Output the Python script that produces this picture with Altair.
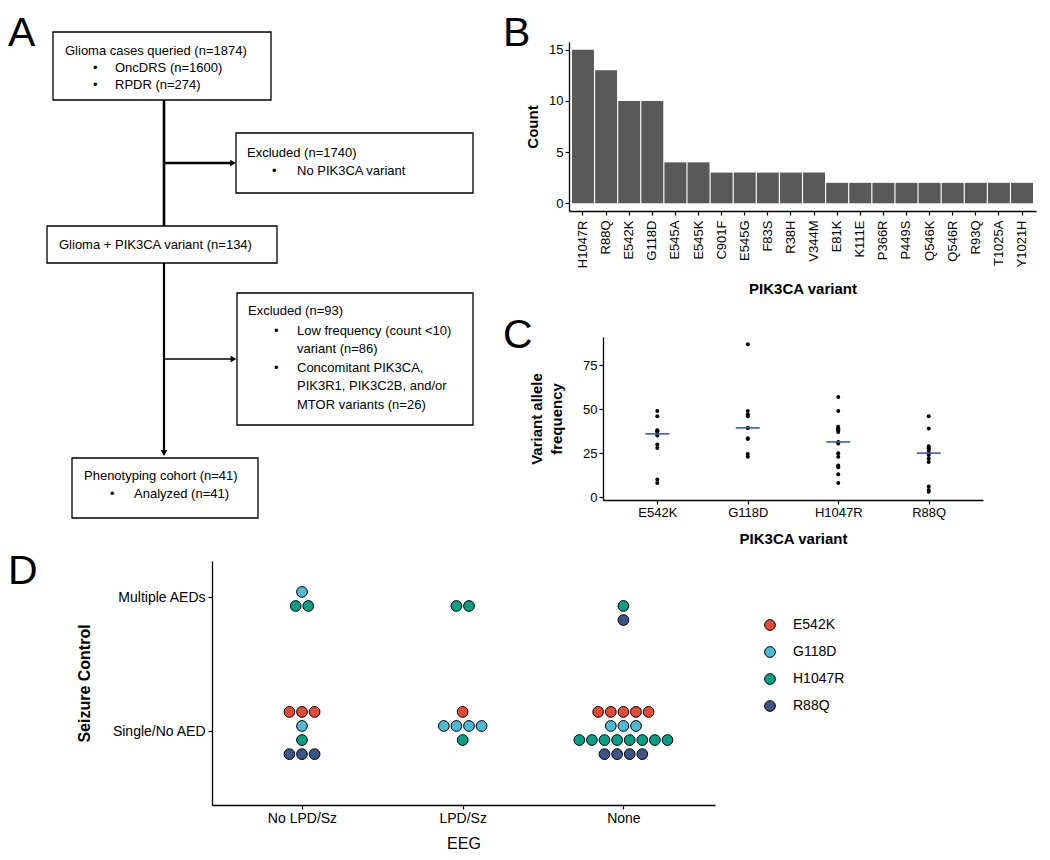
import altair as alt
import pandas as pd

FONT = "Liberation Sans"
LETTER_FONT = "Liberation Sans"

# ---------------- Panel A: flowchart (page-pixel layout space) ----------------
box_x1 = [53, 236, 47, 237, 72]
box_x2 = [271, 473, 277, 473, 258]
box_y1 = [32, 133, 226, 293, 458]
box_y2 = [100, 193, 263, 425, 518]

seg_x1 = [164, 164, 164, 164]
seg_x2 = [164, 231, 164, 232]
seg_y1 = [100, 163, 263, 359]
seg_y2 = [226, 163, 451, 359]
seg_w = [2.6, 2.6, 2.2, 1.4]

head_x = [233, 164, 233.5]
head_y = [163, 453, 359]
head_shape = ["triangle-right", "triangle-down", "triangle-right"]

txt_x = [65, 93, 115, 93, 115, 247, 272, 297, 59, 248, 274, 297, 297, 274, 297, 297, 297, 84, 110, 134]
txt_y = [51, 68, 68, 85, 85, 153, 171, 171, 245, 311, 331, 331, 349, 368, 368, 386, 405, 476, 494, 494]
txt_label = ["Glioma cases queried (n=1874)", "•", "OncDRS (n=1600)", "•", "RPDR (n=274)",
             "Excluded (n=1740)", "•", "No PIK3CA variant",
             "Glioma + PIK3CA variant (n=134)",
             "Excluded (n=93)", "•", "Low frequency (count <10)", "variant (n=86)",
             "•", "Concomitant PIK3CA,", "PIK3R1, PIK3C2B, and/or", "MTOR variants (n=26)",
             "Phenotyping cohort (n=41)", "•", "Analyzed (n=41)"]

# ---------------- Panel B: counts per variant ----------------
b_variants = ["H1047R", "R88Q", "E542K", "G118D", "E545A", "E545K", "C901F", "E545G", "F83S", "R38H",
              "V344M", "E81K", "K111E", "P366R", "P449S", "Q546K", "Q546R", "R93Q", "T1025A", "Y1021H"]
b_counts = [15, 13, 10, 10, 4, 4, 3, 3, 3, 3, 3, 2, 2, 2, 2, 2, 2, 2, 2, 2]

# ---------------- Panel C: variant allele frequency ----------------
c_variants = ["E542K", "G118D", "H1047R", "R88Q"]
c_e542k = [49, 46, 38, 37.5, 37, 35, 30, 28, 10, 8]
c_g118d = [87, 49, 47, 46, 39.5, 39.3, 33.5, 33, 24.5, 23]
c_h1047r = [57, 49, 40, 39, 38.5, 38, 37, 31.4, 30.5, 25, 23, 18, 17, 13, 8]
c_r88q = [46, 39, 29, 28, 27.5, 26.5, 25, 24, 22, 20, 6, 4, 3]

# ---------------- Panel D: seizure control by EEG ----------------
d_eeg_levels = ["No LPD/Sz", "LPD/Sz", "None"]
d_seizure_levels = ["Single/No AED", "Multiple AEDs"]
d_variants = ["E542K", "G118D", "H1047R", "R88Q"]
d_colors = ["#E64B35", "#4DBBD5", "#00A087", "#3C5488"]
d_eeg = ["No LPD/Sz", "No LPD/Sz", "No LPD/Sz", "No LPD/Sz", "No LPD/Sz", "No LPD/Sz",
         "LPD/Sz", "LPD/Sz", "LPD/Sz", "LPD/Sz",
         "None", "None", "None", "None", "None", "None"]
d_seizure = ["Multiple AEDs", "Multiple AEDs", "Single/No AED", "Single/No AED", "Single/No AED", "Single/No AED",
             "Multiple AEDs", "Single/No AED", "Single/No AED", "Single/No AED",
             "Multiple AEDs", "Multiple AEDs", "Single/No AED", "Single/No AED", "Single/No AED", "Single/No AED"]
d_variant = ["G118D", "H1047R", "E542K", "G118D", "H1047R", "R88Q",
             "H1047R", "E542K", "G118D", "H1047R",
             "H1047R", "R88Q", "E542K", "G118D", "H1047R", "R88Q"]
d_n = [1, 2, 3, 1, 1, 3,
       2, 1, 4, 1,
       1, 1, 5, 3, 8, 4]


def frame(x1, x2, y1, y2):
    return alt.Chart(pd.DataFrame({"f": [0]})).mark_rect(opacity=0).encode(
        x=alt.value(x1), x2=alt.value(x2), y=alt.value(y1), y2=alt.value(y2))


def letter(ch, x, y):
    return alt.Chart(pd.DataFrame({"f": [0]})).mark_text(
        text=ch, align="left", baseline="alphabetic", font=LETTER_FONT, fontSize=41, color="black"
    ).encode(x=alt.value(x), y=alt.value(y))


# ---------- Panel A (origin aligned with panel D's plot origin) ----------
A_X0, A_Y0, WA, HA = 212, 42, 291, 506
sxA = alt.Scale(domain=[A_X0, A_X0 + WA], nice=False, zero=False)
syA = alt.Scale(domain=[A_Y0, A_Y0 + HA], nice=False, zero=False, reverse=True)

boxes = pd.DataFrame({"x1": box_x1, "x2": box_x2, "y1": box_y1, "y2": box_y2})
segs = pd.DataFrame({"x1": seg_x1, "x2": seg_x2, "y1": seg_y1, "y2": seg_y2, "w": seg_w})
heads = pd.DataFrame({"x": head_x, "y": head_y, "shape": head_shape})
texts = pd.DataFrame({"x": txt_x, "y": txt_y, "label": txt_label})

A_boxes = alt.Chart(boxes).mark_rect(fill="white", stroke="black", strokeWidth=1.3).encode(
    x=alt.X("x1:Q", scale=sxA, axis=None), x2="x2:Q",
    y=alt.Y("y1:Q", scale=syA, axis=None), y2="y2:Q")
A_segs = alt.Chart(segs).mark_rule(color="black").encode(
    x=alt.X("x1:Q", scale=sxA, axis=None), x2="x2:Q",
    y=alt.Y("y1:Q", scale=syA, axis=None), y2="y2:Q",
    strokeWidth=alt.StrokeWidth("w:Q", scale=None, legend=None))
A_heads = alt.Chart(heads).mark_point(filled=True, color="black", opacity=1, size=45).encode(
    x=alt.X("x:Q", scale=sxA, axis=None),
    y=alt.Y("y:Q", scale=syA, axis=None),
    shape=alt.Shape("shape:N", scale=None, legend=None))
A_text = alt.Chart(texts).mark_text(align="left", baseline="middle", font=FONT, fontSize=13,
                                    color="black").encode(
    x=alt.X("x:Q", scale=sxA, axis=None),
    y=alt.Y("y:Q", scale=syA, axis=None),
    text="label:N")
panelA = alt.layer(frame(-204, WA, -34, HA), A_boxes, A_segs, A_heads, A_text,
                   letter("A", -204, 4)).properties(width=WA, height=HA)

# ---------- Panel B ----------
dfB = pd.DataFrame({"variant": b_variants, "count": b_counts})
B_bars = alt.Chart(dfB).mark_bar(color="#595959").encode(
    x=alt.X("variant:N", sort=b_variants,
            scale=alt.Scale(paddingInner=0.05, paddingOuter=0.13),
            axis=alt.Axis(title="PIK3CA variant", labelAngle=270, labelFontSize=13, labelPadding=5,
                          titlePadding=14, tickSize=4)),
    y=alt.Y("count:Q", scale=alt.Scale(domain=[-0.75, 15.75], nice=False, zero=False),
            axis=alt.Axis(title="Count", values=[0, 5, 10, 15], tickSize=4, labelPadding=2,
                          titlePadding=8, labelFontSize=13)))
panelB = alt.layer(frame(-66, 473, -34, 262), B_bars, letter("B", -66, 4)).properties(width=467, height=169)

# ---------- Panel C (group origin shared with B; axes shifted inward) ----------
c_all = [c_e542k, c_g118d, c_h1047r, c_r88q]
dfC = pd.DataFrame({
    "variant": [v for v, vals in zip(c_variants, c_all) for _ in vals],
    "vaf": [x for vals in c_all for x in vals],
})
C_SHIFT, WC, HC = 34, 414, 163
xC = alt.X("variant:N", sort=c_variants,
           scale=alt.Scale(type="point", padding=0.6, range=[C_SHIFT, WC]),
           axis=alt.Axis(title="PIK3CA variant", labelAngle=0, labelFontSize=13, labelPadding=2,
                         titlePadding=12, tickSize=4))
yC_scale = alt.Scale(domain=[-1.7, 91.2], nice=False, zero=False)
C_pts = alt.Chart(dfC).mark_circle(size=16, color="black", opacity=1).encode(
    x=xC,
    y=alt.Y("vaf:Q", scale=yC_scale,
            axis=alt.Axis(title=["Variant allele", "frequency"], values=[0, 25, 50, 75], tickSize=4,
                          labelPadding=2, titlePadding=18, labelFontSize=13, titleLineHeight=20,
                          offset=-C_SHIFT)))
C_med = alt.Chart(dfC).mark_tick(color="#3F5AA8", thickness=1.6, size=24).encode(
    x=xC, y=alt.Y("median(vaf):Q", scale=yC_scale))
panelC = alt.layer(frame(-66, 473, -33, 211), C_pts, C_med, letter("C", -66, 11)).properties(
    width=WC, height=HC)

# ---------- Panel D ----------
rows = []
for e, s, v, n in zip(d_eeg, d_seizure, d_variant, d_n):
    for _ in range(n):
        rows.append({"eeg": e, "seizure": s, "variant": v,
                     "eeg_i": d_eeg_levels.index(e) + 1,
                     "sz_i": d_seizure_levels.index(s) + 1,
                     "var_i": d_variants.index(v)})
dfD = pd.DataFrame(rows)

x_label_expr = " : ".join(
    [f"datum.value == {i + 1} ? '{lab}'" for i, lab in enumerate(d_eeg_levels[:-1])]) + f" : '{d_eeg_levels[-1]}'"
y_label_expr = f"datum.value == 1 ? '{d_seizure_levels[0]}' : '{d_seizure_levels[1]}'"
color_scale = alt.Scale(domain=d_variants, range=d_colors)

D_pts = alt.Chart(dfD).transform_window(
    k="row_number()", groupby=["eeg", "seizure", "variant"]
).transform_joinaggregate(
    cnt="count()", groupby=["eeg", "seizure", "variant"]
).transform_calculate(
    xpos="datum.eeg_i + (datum.k - (datum.cnt + 1) / 2) * 0.0784",
    ypos="datum.sz_i + (1.5 - datum.var_i) * 0.105 - 0.013"
).mark_circle(size=115, stroke="black", strokeWidth=1, opacity=1).encode(
    x=alt.X("xpos:Q", scale=alt.Scale(domain=[0.44, 3.57], nice=False, zero=False),
            axis=alt.Axis(title="EEG", values=[1, 2, 3], labelExpr=x_label_expr, labelFontSize=14,
                          labelPadding=2, titlePadding=10, titleFontSize=16, titleFontWeight="normal",
                          tickSize=4)),
    y=alt.Y("ypos:Q", scale=alt.Scale(domain=[0.45, 2.27], nice=False, zero=False),
            axis=alt.Axis(title="Seizure Control", values=[1, 2], labelExpr=y_label_expr, labelFontSize=14,
                          labelPadding=3, titlePadding=19, titleFontSize=16, tickSize=4)),
    color=alt.Color("variant:N", scale=color_scale, legend=None),
    order=alt.Order("var_i:Q"))

dfLeg = pd.DataFrame({"variant": d_variants})
leg_y = alt.Y("variant:N", scale=alt.Scale(domain=d_variants, range=[64, 145], padding=0), axis=None)
D_leg_pts = alt.Chart(dfLeg).mark_circle(size=115, stroke="black", strokeWidth=1, opacity=1).encode(
    x=alt.value(558), y=leg_y, color=alt.Color("variant:N", scale=color_scale, legend=None))
D_leg_txt = alt.Chart(dfLeg).mark_text(align="left", baseline="middle", font=FONT, fontSize=14,
                                       color="black").encode(
    x=alt.value(581), y=leg_y, text="variant:N")

panelD = alt.layer(frame(-204, 830, -13, 289), D_pts, D_leg_pts, D_leg_txt, letter("D", -204, 23)).resolve_scale(
    y="independent").properties(width=503, height=244)

right_col = alt.vconcat(panelB, panelC, spacing=0)
top_row = alt.hconcat(panelA, right_col, spacing=0)
chart = alt.vconcat(top_row, panelD, spacing=0).properties(padding=0, background="white").configure_view(
    stroke=None
).configure_axis(
    grid=False, domainColor="black", tickColor="black", labelColor="black", titleColor="black",
    domainWidth=1.3, tickWidth=1.2, labelFont=FONT, titleFont=FONT, titleFontSize=15,
    titleFontWeight="bold"
)

chart.save("out.html", embed_options={"renderer": "svg", "actions": False})
